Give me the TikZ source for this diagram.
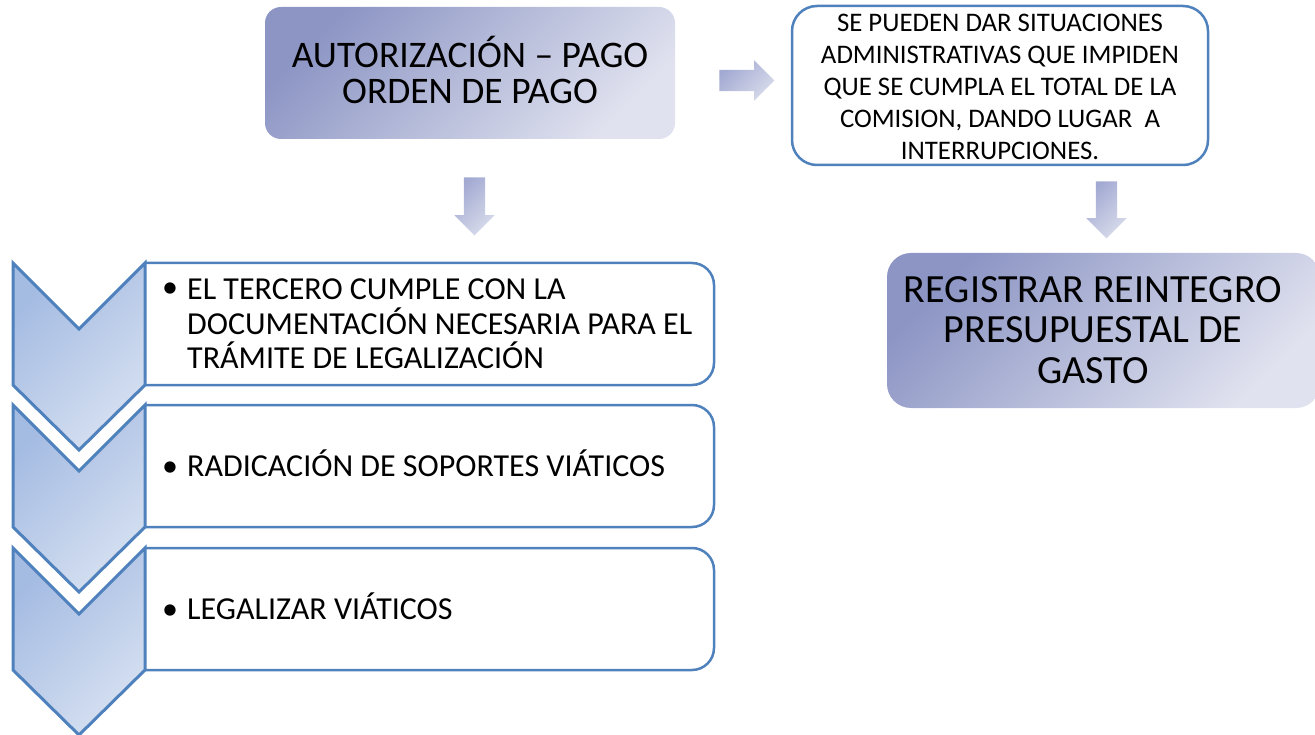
\documentclass[tikz,border=0pt]{standalone}
\usepackage{fontspec}
\setmainfont{Carlito}
\usetikzlibrary{shapes.arrows}

\definecolor{bordeazul}{HTML}{4F81BD}
\definecolor{chevA}{HTML}{A4BBE2}
\definecolor{chevB}{HTML}{D6E0F1}
\definecolor{cajaA}{HTML}{8C95C4}
\definecolor{cajaB}{HTML}{E0E2EF}
\definecolor{flechaA}{HTML}{A2A9D2}
\definecolor{flechaB}{HTML}{D8DBEB}

\tikzset{
  chevron/.style={draw=bordeazul, line width=3pt, top color=chevA, bottom color=chevB, shading angle=45},
  pasobox/.style={draw=bordeazul, line width=2.5pt, fill=white, rounded corners=22pt},
  pasotexto/.style={anchor=north west, align=left, inner sep=0pt, font=\fontsize{32}{34.5}\selectfont},
  vineta/.style={anchor=base, inner sep=0pt, font=\fontsize{32}{34.5}\selectfont},
  cajagrad/.style={top color=cajaA, bottom color=cajaB, shading angle=45, rounded corners=16pt},
  flecha/.style={single arrow, top color=flechaA, bottom color=flechaB, shading angle=45,
    inner sep=10.5pt, single arrow head extend=9.5pt}
}

\begin{document}
\begin{tikzpicture}[x=1pt, y=-1pt]
\useasboundingbox (0,0) rectangle (1315,735);

% pasos de la legalizacion
\foreach \y in {263,405,548}
  \draw[pasobox] (145,\y) -- (714,\y) -- (714,\y+122) -- (145,\y+122);
\foreach \y in {263,405,548}
  \draw[chevron] (13,\y) -- (79,\y+66) -- (145,\y) -- (145,\y+122) -- (79,\y+187) -- (13,\y+122) -- cycle;

\node[vineta] (vinA) at (170,298) {•};
\node[pasotexto] (pasoA) at (187,279) {EL TERCERO CUMPLE CON LA\\DOCUMENTACIÓN NECESARIA PARA EL\\TRÁMITE DE LEGALIZACIÓN};
\node[vineta] (vinB) at (170,476) {•};
\node[pasotexto, anchor=base west] (pasoB) at (187,476) {RADICACIÓN DE SOPORTES VIÁTICOS};
\node[vineta] (vinC) at (170,619) {•};
\node[pasotexto, anchor=base west] (pasoC) at (187,619) {LEGALIZAR VIÁTICOS};

% cajas superiores
\node[cajagrad, minimum width=410pt, minimum height=132pt] (autoriza) at (470,73) {};
\node[align=center, inner sep=0pt, font=\fontsize{37.5}{36}\selectfont] (autorizaTxt) at (470,70) {AUTORIZACIÓN – PAGO\\ORDEN DE PAGO};

\node[draw=bordeazul, line width=2.5pt, fill=white, rounded corners=25pt, minimum width=416pt, minimum height=159pt] (situacion) at (1000,85.5) {};
\node[align=center, inner sep=0pt, font=\fontsize{26.8}{32}\selectfont] (situacionTxt) at (1000,87) {SE PUEDEN DAR SITUACIONES\\ADMINISTRATIVAS QUE IMPIDEN\\QUE SE CUMPLA EL TOTAL DE LA\\COMISION, DANDO LUGAR\ \ A\\INTERRUPCIONES.};

\node[cajagrad, rounded corners=24pt, minimum width=433pt, minimum height=155pt] (reintegro) at (1103.5,330.5) {};
\node[align=center, inner sep=0pt, font=\fontsize{40}{40.5}\selectfont] (reintegroTxt) at (1093,330) {REGISTRAR REINTEGRO\\PRESUPUESTAL DE\\GASTO};

% flechas
\node[flecha, minimum height=55pt] (flechaDer) at (741.5,80.5) {};
\node[flecha, shape border rotate=270, minimum height=58pt] (flechaAbA) at (474.5,201) {};
\node[flecha, shape border rotate=270, minimum height=57pt] (flechaAbB) at (1106.5,204.5) {};
\end{tikzpicture}
\end{document}
